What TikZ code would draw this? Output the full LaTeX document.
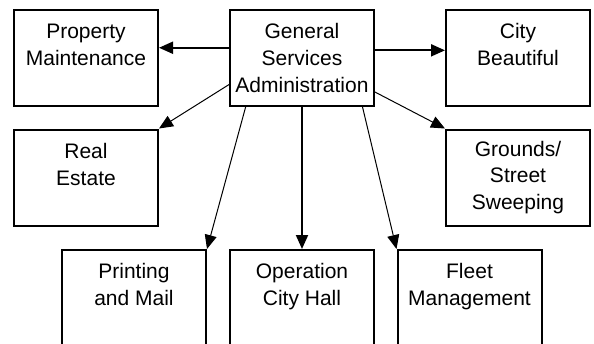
\documentclass[tikz,border=0pt]{standalone}
\usepackage{fontspec}
\setmainfont{Liberation Sans}
\usetikzlibrary{arrows.meta,calc}

\begin{document}
\begin{tikzpicture}[x=1pt,y=-1pt]
  \tikzset{
    unit/.style={draw=black, fill=white, line width=2pt, minimum width=144pt, minimum height=96pt,
      inner sep=0pt, align=center, font=\fontsize{21}{26.7}\selectfont},
    link/.style={-{Triangle[length=14pt,width=12pt]}, black, line width=1pt},
    main/.style={link, line width=2pt}
  }

  % frame of the page (bottom row runs off the edge)
  \clip (0,0) rectangle (594,343);
  \fill[white] (0,0) rectangle (594,343);

  % Top row
  \node[unit] (pm) at (86,58) {Property\\Maintenance\\\mbox{}};
  \node[unit] (gsa) at (302,58) {General\\Services\\Administration};
  \node[unit] (cb) at (518,58) {City\\Beautiful\\\mbox{}};

  % Middle row
  \node[unit] (re) at (86,177.5) {Real\\Estate\\\mbox{}};
  \node[unit] (grounds) at (518,177.5) {Grounds/\\Street\\Sweeping};

  % Bottom row
  \node[unit] (print) at (134,298) {Printing\\and Mail\\\mbox{}};
  \node[unit] (ops) at (302,298) {Operation\\City Hall\\\mbox{}};
  \node[unit] (fleet) at (469.5,298) {Fleet\\Management\\\mbox{}};

  % Connectors
  \draw[main] (gsa.172) -- (gsa.172 -| pm.east);
  \draw[main] (gsa.6) -- (gsa.6 -| cb.west);
  \draw[link] (gsa.200) -- (re.north east);
  \draw[link] (gsa.335) -- (grounds.north west);
  \draw[link] (gsa.221) -- (print.north east);
  \draw[main] (gsa.south) -- (ops.north);
  \draw[link] (gsa.321) -- (fleet.north west);

\end{tikzpicture}
\end{document}
